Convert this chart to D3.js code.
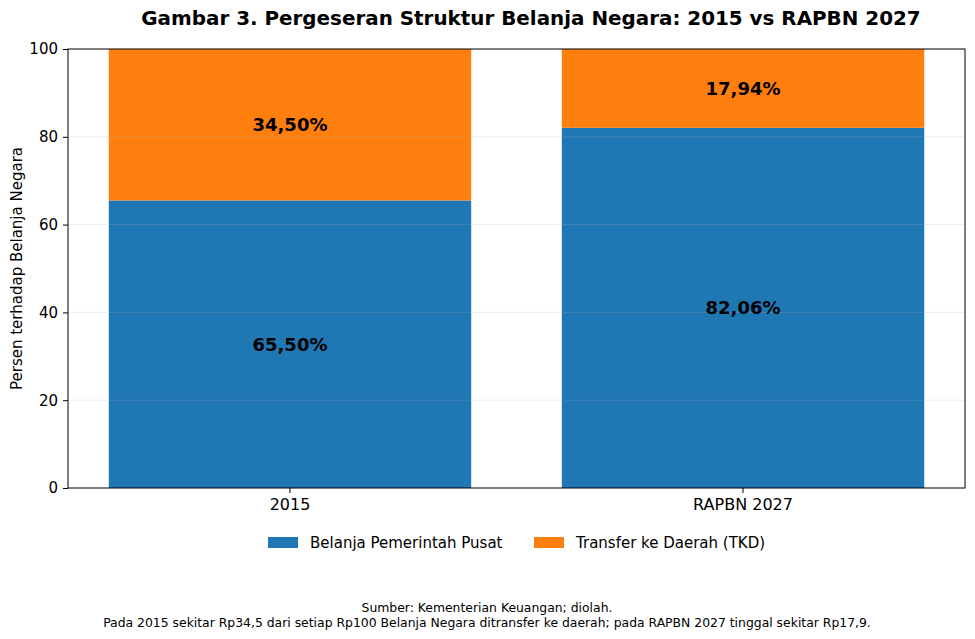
<!DOCTYPE html>
<html>
<head>
<meta charset="utf-8">
<script src="https://cdn.jsdelivr.net/npm/d3@7"></script>
<style>
  body { margin: 0; background: #fff; font-family: "DejaVu Sans", sans-serif; }
</style>
</head>
<body>
<div id="chart"></div>
<script>
// data
var categories = ['2015', 'RAPBN 2027'];
var pusatValues = [65.50, 82.06];
var tkdValues = [34.50, 17.94];
var seriesNames = ['Belanja Pemerintah Pusat', 'Transfer ke Daerah (TKD)'];
var yTicks = [0, 20, 40, 60, 80, 100];
var footerLines = [
	'Sumber: Kementerian Keuangan; diolah.',
	'Pada 2015 sekitar Rp34,5 dari setiap Rp100 Belanja Negara ditransfer ke daerah; pada RAPBN 2027 tinggal sekitar Rp17,9.'
];

var width = 975, height = 639;
var margin = {top: 49, right: 10, bottom: 151, left: 68};
var plotW = width - margin.left - margin.right;
var plotH = height - margin.top - margin.bottom;
var colors = ['#1f77b4', '#ff7f0e'];
var font = '"DejaVu Sans", sans-serif';

var svg = d3.select('#chart').append('svg')
	.attr('width', width)
	.attr('height', height)
	.style('font-family', font);

var g = svg.append('g')
	.attr('transform', 'translate(' + margin.left + ',' + margin.top + ')');

var x = d3.scaleBand()
	.domain(categories)
	.range([0, plotW])
	.paddingInner(0.2)
	.paddingOuter(0.09);

var y = d3.scaleLinear()
	.domain([0, 100])
	.range([plotH, 0]);

// stack the two series
var rows = categories.map(function(c, i) { return {cat: c, pusat: pusatValues[i], tkd: tkdValues[i]}; });
var stacked = d3.stack().keys(['pusat', 'tkd'])(rows);

g.selectAll('.layer')
	.data(stacked).enter()
	.append('g')
		.attr('class', 'layer')
		.attr('fill', function(d, i) { return colors[i]; })
	.selectAll('rect')
	.data(function(d) { return d; }).enter()
	.append('rect')
		.attr('x', function(d) { return x(d.data.cat); })
		.attr('y', function(d) { return y(d[1]); })
		.attr('width', x.bandwidth())
		.attr('height', function(d) { return y(d[0]) - y(d[1]); });

// faint grid over the bars
g.selectAll('.grid')
	.data(yTicks.slice(1, -1)).enter()
	.append('line')
		.attr('x1', 0).attr('x2', plotW)
		.attr('y1', function(d) { return y(d); })
		.attr('y2', function(d) { return y(d); })
		.attr('stroke', '#b0b0b0')
		.attr('stroke-opacity', 0.3)
		.attr('stroke-width', 0.8);

// value labels in the middle of each segment
stacked.forEach(function(layer) {
	g.selectAll(null)
		.data(layer).enter()
		.append('text')
			.attr('x', function(d) { return x(d.data.cat) + x.bandwidth() / 2; })
			.attr('y', function(d) { return y((d[0] + d[1]) / 2); })
			.attr('dy', '0.35em')
			.attr('text-anchor', 'middle')
			.style('font-size', '18px')
			.style('font-weight', 'bold')
			.text(function(d) { return (d[1] - d[0]).toFixed(2).replace('.', ',') + '%'; });
});

// axes
var yAxis = g.append('g')
	.call(d3.axisLeft(y).tickValues(yTicks).tickSize(5).tickPadding(5));
yAxis.attr('font-family', font);
yAxis.selectAll('text').style('font-size', '15px').attr('fill', '#000');

var xAxis = g.append('g')
	.attr('transform', 'translate(0,' + plotH + ')')
	.call(d3.axisBottom(x).tickSize(5).tickPadding(6));
xAxis.attr('font-family', font);
xAxis.selectAll('text').style('font-size', '16px').attr('fill', '#000');
xAxis.select('.domain').remove();
yAxis.select('.domain').remove();

// frame
g.append('rect')
	.attr('width', plotW)
	.attr('height', plotH)
	.attr('fill', 'none')
	.attr('stroke', '#000')
	.attr('stroke-width', 1);

// title
svg.append('text')
	.attr('x', 531)
	.attr('y', 25)
	.attr('text-anchor', 'middle')
	.style('font-size', '19.9px')
	.style('font-weight', 'bold')
	.text('Gambar 3. Pergeseran Struktur Belanja Negara: 2015 vs RAPBN 2027');

// y axis label
svg.append('text')
	.attr('transform', 'translate(22,' + (margin.top + plotH / 2) + ') rotate(-90)')
	.attr('text-anchor', 'middle')
	.style('font-size', '15px')
	.text('Persen terhadap Belanja Negara');

// legend
var legend = svg.append('g').attr('transform', 'translate(268,537)');
var legendX = [0, 266];
seriesNames.forEach(function(name, i) {
	var item = legend.append('g').attr('transform', 'translate(' + legendX[i] + ',0)');
	item.append('rect')
		.attr('width', 30).attr('height', 11)
		.attr('fill', colors[i]);
	item.append('text')
		.attr('x', 42).attr('y', 6)
		.attr('dy', '0.35em')
		.style('font-size', '15px')
		.text(name);
});

// footer
svg.selectAll('.footer')
	.data(footerLines).enter()
	.append('text')
		.attr('x', 487)
		.attr('y', function(d, i) { return 612 + i * 15; })
		.attr('text-anchor', 'middle')
		.style('font-size', '12.4px')
		.text(function(d) { return d; });
</script>
</body>
</html>
